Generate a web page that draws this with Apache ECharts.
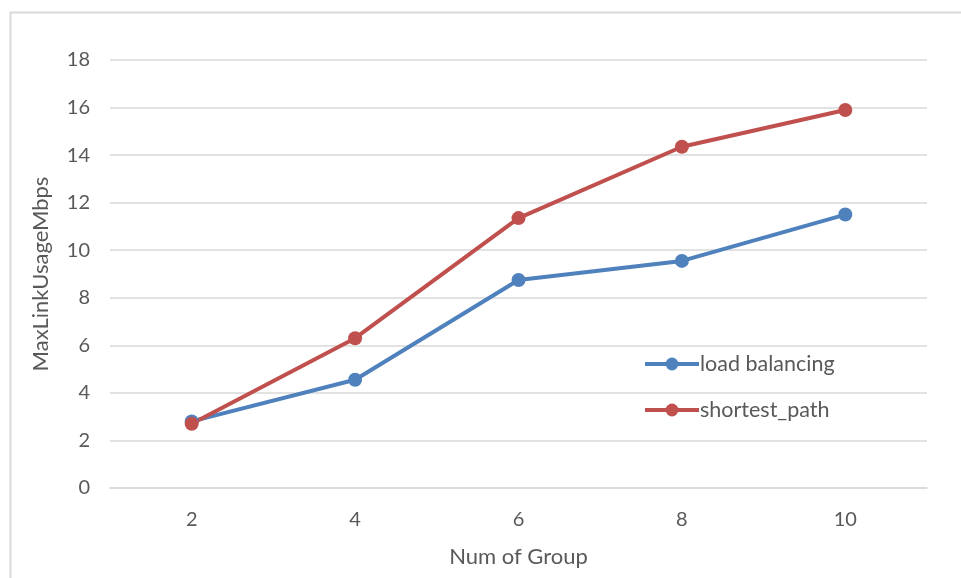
<!DOCTYPE html>
<html>
<head>
<meta charset="utf-8">
<script src="https://cdn.jsdelivr.net/npm/echarts@6/dist/echarts.min.js"></script>
<style>
html,body{margin:0;padding:0;background:#fff;}
#c{width:961px;height:578px;}
</style>
</head>
<body>
<div id="c"></div>
<script>
const categories = ['2', '4', '6', '8', '10'];
const loadBalancing = [2.8, 4.55, 8.75, 9.55, 11.5];
const shortestPath = [2.7, 6.3, 11.35, 14.35, 15.9];
const seriesNames = ['load balancing', 'shortest_path'];
const xTitle = 'Num of Group';
const yTitle = 'MaxLinkUsageMbps';

const FONT = 'Lato, "Open Sans", sans-serif';
const chart = echarts.init(document.getElementById('c'), null, {renderer: 'canvas'});
chart.setOption({
  animation: false,
  backgroundColor: '#fff',
  graphic: [{
    type: 'rect', left: 8, top: 10,
    shape: {width: 1000, height: 700},
    style: {fill: 'none', stroke: '#d9d9d9', lineWidth: 2},
    silent: true
  }],
  grid: {left: 110, right: 34, top: 60, bottom: 90, containLabel: false},
  legend: {
    orient: 'vertical',
    left: 643, top: 353,
    padding: 0,
    itemGap: 24,
    itemWidth: 54, itemHeight: 16,
    lineStyle: {width: 4},
    textStyle: {fontFamily: FONT, fontSize: 21.5, color: '#595959', padding: [0,0,0,-4]},
    data: seriesNames
  },
  xAxis: {
    type: 'category',
    data: categories,
    boundaryGap: true,
    name: xTitle,
    nameLocation: 'middle',
    nameGap: 58,
    nameTextStyle: {fontFamily: FONT, fontSize: 22, color: '#595959'},
    axisLine: {show: true, lineStyle: {color: '#d9d9d9', width: 1.5}},
    axisTick: {show: false},
    axisLabel: {fontFamily: FONT, fontSize: 20, color: '#595959', margin: 22}
  },
  yAxis: {
    type: 'value',
    min: 0, max: 18, interval: 2,
    name: yTitle,
    nameLocation: 'middle',
    nameGap: 58,
    nameTextStyle: {fontFamily: FONT, fontSize: 22, color: '#595959'},
    axisLine: {show: false},
    axisTick: {show: false},
    splitLine: {lineStyle: {color: '#d9d9d9', width: 1.5}},
    axisLabel: {fontFamily: FONT, fontSize: 20, color: '#595959', margin: 20}
  },
  series: [
    {
      name: seriesNames[0], type: 'line', data: loadBalancing,
      symbol: 'circle', symbolSize: 14,
      lineStyle: {color: '#4F81BD', width: 4},
      itemStyle: {color: '#4F81BD'}
    },
    {
      name: seriesNames[1], type: 'line', data: shortestPath,
      symbol: 'circle', symbolSize: 14,
      lineStyle: {color: '#C0504D', width: 4},
      itemStyle: {color: '#C0504D'}
    }
  ]
});
</script>
</body>
</html>
